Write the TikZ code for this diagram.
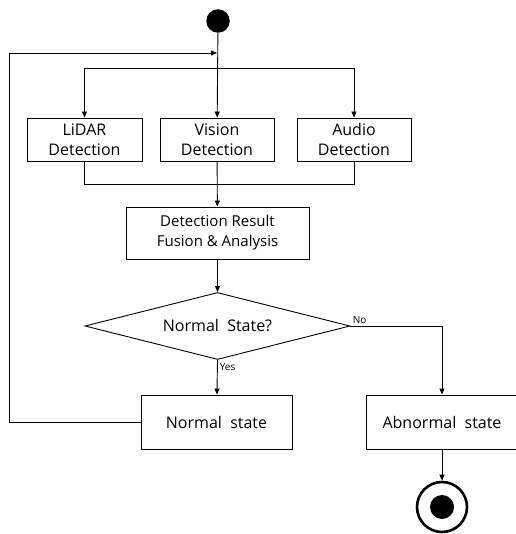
\documentclass[tikz,border=0pt]{standalone}
\usepackage{fontspec}
\setmainfont{Open Sans}
\usetikzlibrary{shapes.geometric, arrows.meta, positioning}

\begin{document}
\begin{tikzpicture}[
    x=1pt, y=-1pt,
    >={Triangle[length=6pt, width=5pt]},
    every path/.style={line width=0.9pt},
    box/.style={rectangle, draw=black, line width=0.9pt, align=center, inner sep=0pt, font=\fontsize{16}{20}\selectfont},
    decision/.style={diamond, aspect=3.95, draw=black, line width=0.9pt, inner sep=0pt, minimum width=265pt, minimum height=67pt, font=\fontsize{16}{20}\selectfont},
    startdot/.style={circle, fill=black, inner sep=0pt, minimum size=23.5pt},
    endring/.style={circle, draw=black, line width=2.6pt, inner sep=0pt, minimum size=50pt},
    tag/.style={font=\fontsize{10}{12}\selectfont, inner sep=2pt}
]
\useasboundingbox (0,0) rectangle (515,534);

% Nodes
\node[startdot] (start) at (218,21) {};
\node[box, minimum width=115pt, minimum height=43pt] (lidar) at (84.5,139.5) {LiDAR\\Detection};
\node[box, minimum width=114pt, minimum height=43pt] (vision) at (217,139.5) {Vision\\Detection};
\node[box, minimum width=114pt, minimum height=43pt] (audio) at (354,139.5) {Audio\\Detection};
\node[box, minimum width=183pt, minimum height=52pt, font=\fontsize{15}{20}\selectfont] (fusion) at (217.5,233) {Detection Result\\Fusion \& Analysis};
\node[decision] (check) at (217.5,326) {Normal\ \ State?};
\node[box, minimum width=151pt, minimum height=54pt] (normal) at (216.5,422) {Normal\ \ state};
\node[box, minimum width=152pt, minimum height=54pt] (abnormal) at (442,422) {Abnormal\ \ state};
\node[endring] (end) at (442,507) {};
\node[startdot, minimum size=24pt] (enddot) at (end) {};

% Helper points
\coordinate (split) at (vision.north |- 0,68);
\coordinate (join) at (vision.south |- 0,184);
\coordinate (loopx) at (9,53);
\coordinate (loopin) at (vision.north |- 0,53);

% Links
\draw[->] (start) -- (vision);
\draw[->] (split) -| (lidar.north);
\draw[->] (split) -| (audio.north);
\draw (lidar.south) |- (join);
\draw (audio.south) |- (join);
\draw[->] (vision) -- (fusion);
\draw[->] (fusion) -- (check);
\draw[->] (check.south) -- node[tag, pos=0.2, right] {Yes} (normal);
\draw[->] (check.east) -| node[tag, pos=0, above right] {No} (abnormal.north);
\draw[->] (abnormal) -- (end);
\draw[->] (normal.west) -| (loopx) -- (loopin);

\end{tikzpicture}
\end{document}
